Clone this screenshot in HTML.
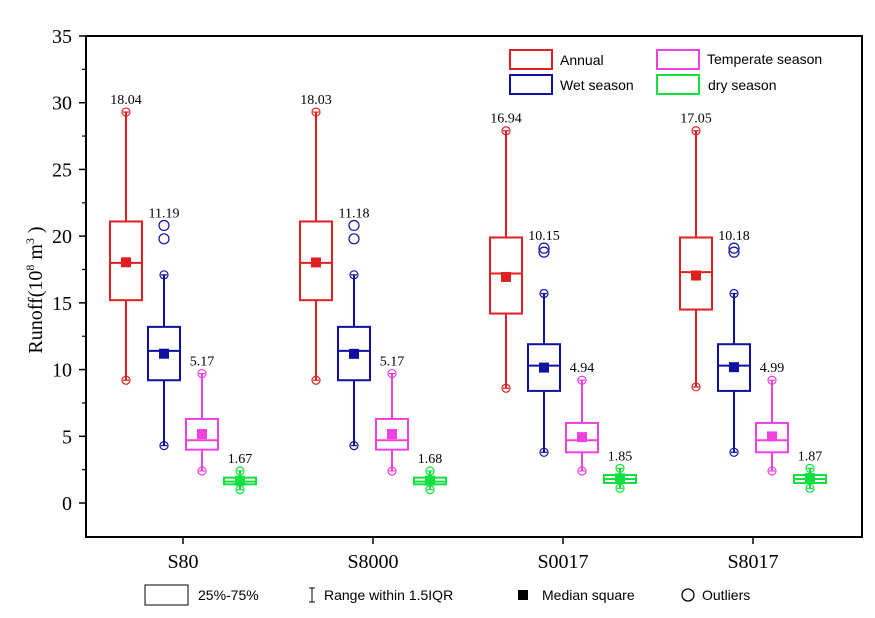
<!DOCTYPE html>
<html><head><meta charset="utf-8"><style>
body{margin:0;background:#fff;}
svg{display:block;font-family:"Liberation Serif",serif;}
.s{font-family:"Liberation Sans",sans-serif;font-size:14px;}
</style></head><body>
<svg id="c" width="875" height="618">
<rect x="86" y="36" width="776" height="501" fill="none" stroke="#000" stroke-width="2"/>
<text transform="translate(42,290) rotate(-90)" text-anchor="middle" font-size="20">Runoff(10<tspan font-size="12" dy="-8">8</tspan><tspan dy="8"> m</tspan><tspan font-size="12" dy="-8">3</tspan><tspan dy="8"> )</tspan></text>
<g id="legend">
<rect x="510" y="50" width="42" height="19" fill="none" stroke="#e02020" stroke-width="2"/>
<text class="s" x="560" y="65">Annual</text>
<rect x="510" y="75" width="42" height="19" fill="none" stroke="#1010a0" stroke-width="2"/>
<text class="s" x="560" y="90">Wet season</text>
<rect x="657" y="50" width="42" height="19" fill="none" stroke="#f040e0" stroke-width="2"/>
<text class="s" x="707" y="64">Temperate season</text>
<rect x="657" y="75" width="42" height="19" fill="none" stroke="#10e040" stroke-width="2"/>
<text class="s" x="708" y="90">dry season</text>
</g>
<g>
<rect x="145" y="585" width="43" height="20" fill="none" stroke="#000"/>
<text class="s" x="198" y="600">25%-75%</text>
<path d="M309 588h6M312 588v14M309 602h6" stroke="#000" fill="none"/>
<text class="s" x="324" y="600">Range within 1.5IQR</text>
<rect x="518" y="590" width="10" height="10" fill="#000"/>
<text class="s" x="542" y="600">Median square</text>
<circle cx="688" cy="595" r="6" fill="none" stroke="#000" stroke-width="1.3"/>
<text class="s" x="702" y="600">Outliers</text>
</g>
</svg>
<script>
const categories=["S80","S8000","S0017","S8017"];
const seriesNames=["Annual","Wet season","Temperate season","dry season"];
const colors=["#e02020","#1010a0","#f040e0","#10e040"];
const yTicks=[0,5,10,15,20,25,30,35];
// per group: [series][min,q1,median,q3,max,mean]
const stats=[
 [[9.2,15.2,18.0,21.1,29.3,18.04],[4.3,9.2,11.4,13.2,17.1,11.19],[2.4,4.0,4.7,6.3,9.7,5.17],[1.0,1.4,1.6,1.9,2.4,1.67]],
 [[9.2,15.2,18.0,21.1,29.3,18.03],[4.3,9.2,11.4,13.2,17.1,11.18],[2.4,4.0,4.7,6.3,9.7,5.17],[1.0,1.4,1.6,1.9,2.4,1.68]],
 [[8.6,14.2,17.2,19.9,27.9,16.94],[3.8,8.4,10.3,11.9,15.7,10.15],[2.4,3.8,4.7,6.0,9.2,4.94],[1.1,1.5,1.8,2.1,2.6,1.85]],
 [[8.7,14.5,17.3,19.9,27.9,17.05],[3.8,8.4,10.3,11.9,15.7,10.18],[2.4,3.8,4.7,6.0,9.2,4.99],[1.1,1.5,1.8,2.1,2.6,1.87]]
];
const outliers=[[[],[19.8,20.8],[],[]],[[],[19.8,20.8],[],[]],[[],[18.8,19.1],[],[]],[[],[18.8,19.1],[],[]]];
const svg=document.getElementById('c');const NS="http://www.w3.org/2000/svg";
const y=v=>503-v*(467/35);
const xg=i=>183+i*190;
const off=[-57,-19,19,57];
function mk(t,a,p){const e=document.createElementNS(NS,t);for(const k in a)e.setAttribute(k,a[k]);(p||svg).appendChild(e);return e;}
yTicks.forEach(t=>{mk('line',{x1:86,x2:79,y1:y(t),y2:y(t),stroke:'#000','stroke-width':1.5});
 if(t<35)mk('line',{x1:86,x2:82,y1:y(t+2.5),y2:y(t+2.5),stroke:'#000','stroke-width':1.2});
 const tx=mk('text',{x:72,y:y(t)+7,'text-anchor':'end','font-size':20});tx.textContent=t;
 
 });
mk('line',{x1:86,x2:82,y1:y(-2.5)+0,y2:y(-2.5),stroke:'#000','stroke-width':0});
categories.forEach((c,i)=>{mk('line',{x1:xg(i),x2:xg(i),y1:537,y2:544,stroke:'#000','stroke-width':1.5});
 const tx=mk('text',{x:xg(i),y:568,'text-anchor':'middle','font-size':20});tx.textContent=c;
 
 
 stats[i].forEach((s,j)=>{const g=mk('g',{});
  
  
  const cx=xg(i)+off[j],w=32,col=colors[j];
  mk('line',{x1:cx,x2:cx,y1:y(s[0]),y2:y(s[4]),stroke:col,'stroke-width':2},g);
  mk('rect',{x:cx-w/2,y:y(s[3]),width:w,height:y(s[1])-y(s[3]),fill:'#fff',stroke:col,'stroke-width':2},g);
  mk('line',{x1:cx-w/2,x2:cx+w/2,y1:y(s[2]),y2:y(s[2]),stroke:col,'stroke-width':2},g);
  [s[0],s[4]].forEach(v=>{mk('circle',{cx:cx,cy:y(v),r:4,fill:'none',stroke:col,'stroke-width':1.2},g);
   mk('line',{x1:cx-3,x2:cx+3,y1:y(v),y2:y(v),stroke:col,'stroke-width':1.2},g);});
  outliers[i][j].forEach(v=>mk('circle',{cx:cx,cy:y(v),r:5,fill:'none',stroke:col,'stroke-width':1.2},g));
  mk('rect',{x:cx-5,y:y(s[5])-5,width:10,height:10,fill:col},g);
  const top=Math.max(s[4],...outliers[i][j]);
  const lb=mk('text',{x:cx,y:y(top)-8,'text-anchor':'middle','font-size':14},g);lb.textContent=s[5].toFixed(2);
  
  
 });});
</script>
</body></html>
